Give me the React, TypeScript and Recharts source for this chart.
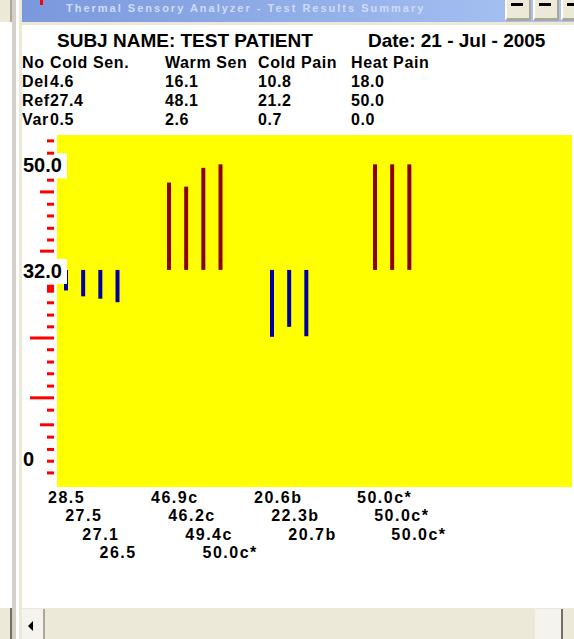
import { Bar, BarChart, CartesianGrid, Cell, LabelList, XAxis, YAxis } from "recharts";

const TITLE = "SUBJ NAME: TEST PATIENT";
const DATE = "Date: 21 - Jul - 2005";
const tests = ["Cold Sen.", "Warm Sen", "Cold Pain", "Heat Pain"];
const rowLabels = ["No", "Del", "Ref", "Var"];
const deltaRow = ["4.6", "16.1", "10.8", "18.0"];
const refRow = ["27.4", "48.1", "21.2", "50.0"];
const varRow = ["0.5", "2.6", "0.7", "0.0"];

const coldSen = [28.5, 27.5, 27.1, 26.5];
const warmSen = [46.9, 46.2, 49.4, 50.0];
const coldPain = [20.6, 22.3, 20.7];
const heatPain = [50.0, 50.0, 50.0];
const coldSenFlags = ["", "", "", ""];
const warmSenFlags = ["c", "c", "c", "c*"];
const coldPainFlags = ["b", "b", "b"];
const heatPainFlags = ["c*", "c*", "c*"];

const BASELINE = 32;
const yLabels = [50, 32, 0];
const shortTicks = [54, 51.9, 47.3, 43.2, 41.2, 39.1, 37.1, 26.4, 24.3, 22.3, 18.4, 16.3, 14.3, 12.2, 8.1, 3.5, 1.4, -0.6, -2.6];
const midTicks = [45.3, 35.2, 5.6];
const longTicks = [20.4, 10.2];
const thickTicks = [28.8];

const BLUE = "#0000a0";
const RED = "#8b0000";
const FONT = "'Liberation Sans', Arial, sans-serif";
const SLOTS = 6;
const GROUPS = 5;
const PLOT_LEFT = 57;
const LABEL_TOP = 503;
const LABEL_STEP = 18.4;

const series = [
  { values: coldSen, flags: coldSenFlags, color: BLUE },
  { values: warmSen, flags: warmSenFlags, color: RED },
  { values: coldPain, flags: coldPainFlags, color: BLUE },
  { values: heatPain, flags: heatPainFlags, color: RED },
];

const data: any[] = [];
for (let g = 0; g < GROUPS; g++) {
  for (let s = 0; s < SLOTS; s++) {
    const ser = series[g];
    const v = ser ? ser.values[s] : undefined;
    data.push({
      slot: g * SLOTS + s,
      range: v == null ? null : [BASELINE, v],
      color: ser ? ser.color : "none",
      tag: v == null ? undefined : `${s}|${v.toFixed(1)}${ser.flags[s]}`,
    });
  }
}

function BottomLabel(props: any) {
  const { x, value } = props;
  if (!value) return null;
  const [trial, text] = String(value).split("|");
  return (
    <text
      x={x - 16}
      y={LABEL_TOP + Number(trial) * LABEL_STEP}
      fontFamily={FONT}
      fontWeight="bold"
      fontSize={16}
      letterSpacing={1.5}
      fill="#000"
    >
      {text}
    </text>
  );
}

function AxisTick(props: any) {
  const { y, payload } = props;
  const v = payload.value;
  if (yLabels.includes(v)) {
    const txt = v === 0 ? "0" : v.toFixed(1);
    return (
      <g>
        {v !== 0 && <rect x={21} y={y - 11} width={PLOT_LEFT + 10 - 21} height={25} fill="#fff" />}
        <text x={23} y={y + 8} fontFamily={FONT} fontWeight="bold" fontSize={20} fill="#000">
          {txt}
        </text>
      </g>
    );
  }
  let len = 7;
  let h = 3;
  if (midTicks.includes(v)) len = 14;
  if (longTicks.includes(v)) len = 24;
  if (thickTicks.includes(v)) h = 8;
  return <rect x={PLOT_LEFT - 3 - len} y={y - h / 2} width={len} height={h} fill="#ff0000" />;
}

const txt = (x: number, y: number, s: string, key?: string) => (
  <text key={key} x={x} y={y} fontFamily={FONT} fontWeight="bold" fontSize={16} letterSpacing={0.6} fill="#000">
    {s}
  </text>
);

export default function App() {
  const colX = [50, 165, 258, 351];
  const rowY = [68, 87, 106, 125];
  const rows = [tests, deltaRow, refRow, varRow];
  const allTicks = [...yLabels, ...shortTicks, ...midTicks, ...longTicks, ...thickTicks];

  return (
    <div style={{ position: "absolute", left: 0, top: 0, width: 574, height: 639, background: "#fff", overflow: "hidden" }}>
      <div style={{ position: "absolute", left: 0, top: 0 }}>
        <BarChart width={574} height={639} data={data} margin={{ top: 135, right: 2, bottom: 152, left: 0 }} barSize={4}>
          <CartesianGrid horizontal={false} vertical={false} fill="#ffff00" stroke="none" />
          <XAxis dataKey="slot" type="category" hide />
          <Bar dataKey="range" isAnimationActive={false}>
            {data.map((d) => (
              <Cell key={d.slot} fill={d.color} />
            ))}
            <LabelList dataKey="tag" content={<BottomLabel />} />
          </Bar>
          <YAxis
            type="number"
            domain={[-5, 55]}
            width={PLOT_LEFT}
            ticks={allTicks}
            interval={0}
            axisLine={false}
            tickLine={false}
            tick={<AxisTick />}
          />
        </BarChart>
      </div>

      <svg width={574} height={639} style={{ position: "absolute", left: 0, top: 0 }}>
        <text x={57} y={47} fontFamily={FONT} fontWeight="bold" fontSize={19} fill="#000">{TITLE}</text>
        <text x={368} y={47} fontFamily={FONT} fontWeight="bold" fontSize={19} fill="#000">{DATE}</text>
        {rowLabels.map((l, i) => txt(22, rowY[i], l, "l" + i))}
        {rows.map((r, ri) => r.map((s, ci) => txt(colX[ci], rowY[ri], s, `${ri}-${ci}`)))}
      </svg>

      {/* window chrome */}
      <div style={{ position: "absolute", left: 0, top: 0, width: 10, height: 22, background: "#ece9d8", borderRight: "2px solid #aca899" }} />
      <div style={{ position: "absolute", left: 12, top: 0, width: 4, height: 639, background: "#d4d0c8" }} />
      <div style={{ position: "absolute", left: 19, top: 0, width: 3, height: 639, background: "#ece9d8" }} />
      <div style={{ position: "absolute", left: 22, top: 0, width: 552, height: 22, background: "linear-gradient(to right, #7a98dc, #a9c4f3)" }} />
      <div style={{ position: "absolute", left: 22, top: 22, width: 552, height: 3, background: "#ece9d8" }} />
      <div style={{ position: "absolute", left: 40, top: 0, width: 3, height: 5, background: "#ff0000" }} />
      <div style={{ position: "absolute", left: 66, top: 2, fontFamily: FONT, fontSize: 11, fontWeight: "bold", color: "#cfdcf8", letterSpacing: 2 }}>
        Thermal Sensory Analyzer - Test Results Summary
      </div>
      {[505, 533, 561].map((bx) => (
        <div key={bx} style={{ position: "absolute", left: bx, top: 0, width: 22, height: 18, background: "#ece9d8", borderLeft: "2px solid #fff", borderRight: "2px solid #aca899", borderBottom: "3px solid #aca899" }}>
          <div style={{ position: "absolute", left: 4, top: 3, width: 12, height: 3, background: "#000" }} />
        </div>
      ))}
      <div style={{ position: "absolute", left: 22, top: 608, width: 552, height: 31, background: "#ece9d8" }} />
      <div style={{ position: "absolute", left: 22, top: 609, width: 21, height: 30, background: "#f4f3ee", borderRight: "2px solid #aca899" }}>
        <div style={{ position: "absolute", left: 6, top: 12, width: 0, height: 0, borderTop: "5px solid transparent", borderBottom: "5px solid transparent", borderRight: "5px solid #000" }} />
      </div>
      <div style={{ position: "absolute", left: 535, top: 609, width: 26, height: 30, background: "#f4f3ee", borderRight: "2px solid #716f64" }} />
      <div style={{ position: "absolute", left: 0, top: 608, width: 10, height: 31, background: "#ece9d8", borderRight: "2px solid #716f64" }} />
    </div>
  );
}
